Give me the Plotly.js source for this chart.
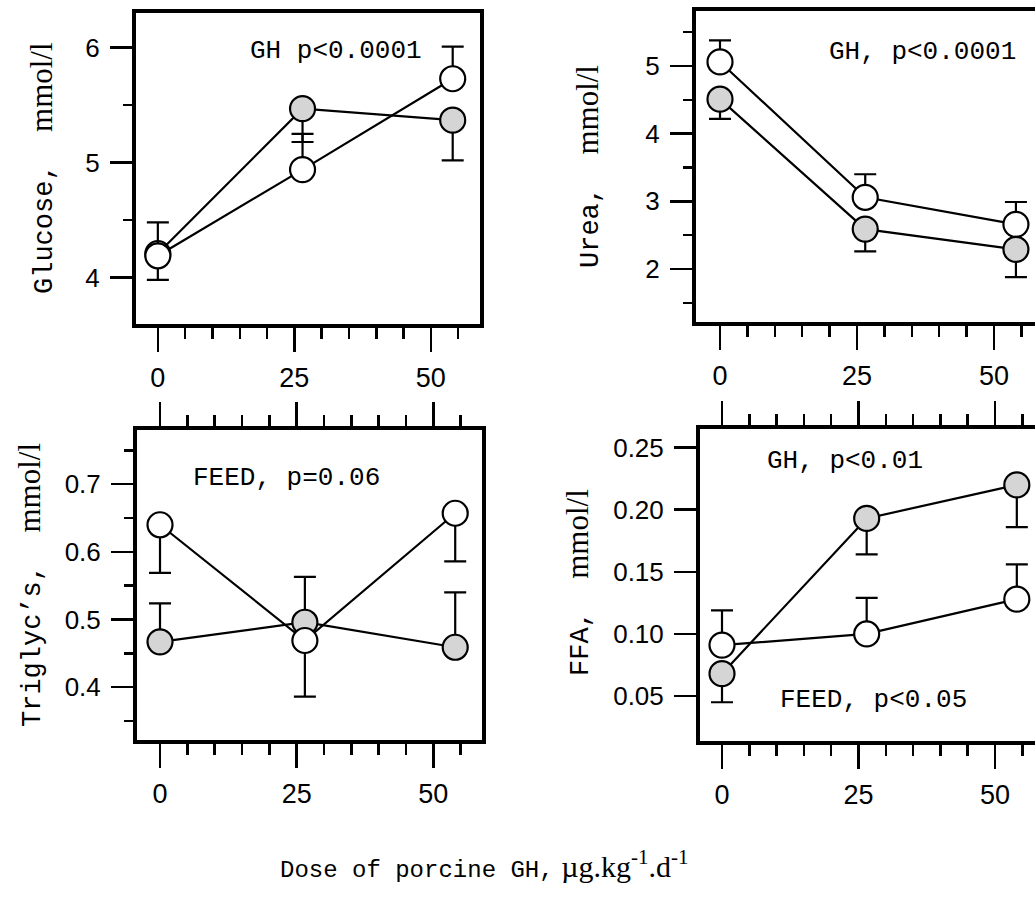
<!DOCTYPE html>
<html><head><meta charset="utf-8">
<script src="https://cdn.plot.ly/plotly-3.0.1.min.js"></script>
<style>html,body{margin:0;padding:0;background:#fff}</style>
</head><body><div id="chart" style="width:1035px;height:899px"></div>
<script>
// ---- data ----
const dose = [0, 26.5, 54];
const xTickVals = [0, 25, 50];
const xTickText = ['0', '25', '50'];

const glucoseOpen = [4.19, 4.94, 5.73];
const glucoseOpenErrUp = [0.29, 0.31, 0.28];
const glucoseFilled = [4.21, 5.47, 5.37];
const glucoseFilledErrDown = [0.23, 0.29, 0.35];
const glucoseTicks = [4, 5, 6];

const ureaOpen = [5.06, 3.06, 2.66];
const ureaOpenErrUp = [0.32, 0.34, 0.33];
const ureaFilled = [4.51, 2.59, 2.29];
const ureaFilledErrDown = [0.29, 0.33, 0.41];
const ureaTicks = [2, 3, 4, 5];

const trigOpen = [0.640, 0.469, 0.657];
const trigOpenErrDown = [0.071, 0.083, 0.071];
const trigFilled = [0.467, 0.496, 0.459];
const trigFilledErrUp = [0.057, 0.067, 0.081];
const trigTicks = [0.4, 0.5, 0.6, 0.7];
const trigTickText = ['0.4', '0.5', '0.6', '0.7'];

const ffaOpen = [0.091, 0.100, 0.128];
const ffaOpenErrUp = [0.028, 0.029, 0.028];
const ffaFilled = [0.068, 0.193, 0.220];
const ffaFilledErrDown = [0.023, 0.029, 0.034];
const ffaTicks = [0.05, 0.10, 0.15, 0.20, 0.25];
const ffaTickText = ['0.05', '0.10', '0.15', '0.20', '0.25'];

const zeros = [0, 0, 0];

const OPEN = '#ffffff';
const FILLED = '#d5d5d5';

function series(y, up, down, fill, xa, ya) {
  return {
    x: dose, y: y, xaxis: xa, yaxis: ya,
    type: 'scatter', mode: 'lines+markers',
    line: {color: '#000', width: 2.2},
    marker: {size: 25, color: fill, line: {color: '#000', width: 2.2}},
    error_y: {type: 'data', symmetric: false, array: up, arrayminus: down,
              color: '#000', thickness: 2.2, width: 11},
    showlegend: false, hoverinfo: 'skip'
  };
}

const data = [
  // glucose: filled first, open on top
  series(glucoseFilled, zeros, glucoseFilledErrDown, FILLED, 'x', 'y'),
  series(glucoseOpen, glucoseOpenErrUp, zeros, OPEN, 'x', 'y'),
  // urea: open first, filled on top
  series(ureaOpen, ureaOpenErrUp, zeros, OPEN, 'x2', 'y2'),
  series(ureaFilled, zeros, ureaFilledErrDown, FILLED, 'x2', 'y2'),
  // triglycerides
  series(trigFilled, trigFilledErrUp, zeros, FILLED, 'x3', 'y3'),
  series(trigOpen, zeros, trigOpenErrDown, OPEN, 'x3', 'y3'),
  // FFA
  series(ffaOpen, ffaOpenErrUp, zeros, OPEN, 'x4', 'y4'),
  series(ffaFilled, zeros, ffaFilledErrDown, FILLED, 'x4', 'y4')
];

const W = 1035, H = 899;
const px = v => v / W;
const py = v => (H - v) / H;

const numFont = {family: 'Liberation Sans, Arial, Helvetica, sans-serif', size: 27, color: '#000'};
const yNumFont = {family: 'Liberation Sans, Arial, Helvetica, sans-serif', size: 26, color: '#000'};

function xAxis(l, r, range, mirror, anchor) {
  return {
    domain: [px(l), px(r)], range: range, anchor: anchor,
    tickmode: 'array', tickvals: xTickVals, ticktext: xTickText,
    ticks: 'outside', ticklen: 24, tickwidth: 2.5, tickcolor: '#000',
    showline: true, linewidth: 4, linecolor: '#000', mirror: mirror,
    showgrid: false, zeroline: false, tickfont: numFont, ticklabelstandoff: 3,
    minor: {tickmode: 'linear', tick0: 0, dtick: 5, ticks: 'outside', ticklen: 11,
            tickwidth: 2.5, tickcolor: '#000', showgrid: false},
    fixedrange: true
  };
}
function yAxis(top, bottom, range, tickvals, ticktext, minorDtick, mirror, anchor) {
  const ax = {
    domain: [py(bottom), py(top)], range: range, anchor: anchor,
    tickmode: 'array', tickvals: tickvals, ticktext: ticktext,
    ticks: 'outside', ticklen: 22, tickwidth: 2.5, tickcolor: '#000',
    showline: true, linewidth: 4, linecolor: '#000', mirror: mirror,
    showgrid: false, zeroline: false, tickfont: yNumFont, ticklabelstandoff: 5,
    fixedrange: true
  };
  if (minorDtick) {
    ax.minor = {tickmode: 'linear', tick0: 0, dtick: minorDtick, ticks: 'outside',
                ticklen: 9, tickwidth: 2.5, tickcolor: '#000', showgrid: false};
  }
  return ax;
}

const mono = 'Liberation Mono, Courier New, monospace';
const serifSpan = t => '<span style="font-family:Liberation Serif,Times New Roman,serif;font-size:31px">' + t + '</span>';

function statNote(text, x, y, xa, ya) {
  return {text: text, x: x, y: y, xref: xa, yref: ya, showarrow: false,
          xanchor: 'center', yanchor: 'middle',
          font: {family: mono, size: 26, color: '#000'}};
}
function yTitle(label, x, y) {
  return {text: label + '\u00a0\u00a0' + serifSpan('mmol/l'), x: px(x), y: py(y),
          xref: 'paper', yref: 'paper', showarrow: false, textangle: -90,
          xanchor: 'center', yanchor: 'middle',
          font: {family: mono, size: 27, color: '#000'}};
}

const layout = {
  width: W, height: H,
  margin: {l: 0, r: 0, t: 0, b: 0},
  paper_bgcolor: '#fff', plot_bgcolor: '#fff',
  showlegend: false,
  xaxis: xAxis(136, 480, [-4.0, 59.0], true, 'y'),
  yaxis: yAxis(12.5, 324, [3.597, 6.306], glucoseTicks, glucoseTicks.map(String), 0.5, true, 'x'),
  xaxis2: xAxis(696, 1035, [-4.38, 57.48], true, 'y2'),
  yaxis2: yAxis(10.5, 322, [1.217, 5.82], ureaTicks, ureaTicks.map(String), 0.5, false, 'x2'),
  xaxis3: xAxis(137, 482, [-4.21, 58.9], 'ticks', 'y3'),
  yaxis3: yAxis(430, 740, [0.322, 0.78], trigTicks, trigTickText, 0.05, true, 'x3'),
  xaxis4: xAxis(700, 1035, [-4.03, 57.33], 'ticks', 'y4'),
  yaxis4: yAxis(429, 741, [0.0138, 0.265], ffaTicks, ffaTickText, null, false, 'x4'),
  annotations: [
    statNote('GH p&lt;0.0001', 32.6, 5.97, 'x', 'y'),
    statNote('GH, p&lt;0.0001', 36.9, 5.20, 'x2', 'y2'),
    statNote('FEED, p=0.06', 23.2, 0.709, 'x3', 'y3'),
    statNote('GH, p&lt;0.01', 22.5, 0.239, 'x4', 'y4'),
    statNote('FEED, p&lt;0.05', 27.8, 0.0468, 'x4', 'y4'),
    yTitle('Glucose,', 42, 168),
    yTitle('Urea,', 588, 167),
    yTitle('Triglyc\u2019s,', 30, 585),
    yTitle('FFA,', 578, 583),
    {text: 'Dose of porcine GH,' + '<span style="font-family:Liberation Serif,Times New Roman,serif;font-size:30px">\u00a0\u00b5g.kg<sup>-1</sup>.d<sup>-1</sup></span>',
     x: px(484), y: py(864), xref: 'paper', yref: 'paper', showarrow: false,
     xanchor: 'center', yanchor: 'middle',
     font: {family: mono, size: 24, color: '#000'}}
  ]
};

Plotly.newPlot('chart', data, layout, {staticPlot: true, displayModeBar: false});
</script>
</body></html>
